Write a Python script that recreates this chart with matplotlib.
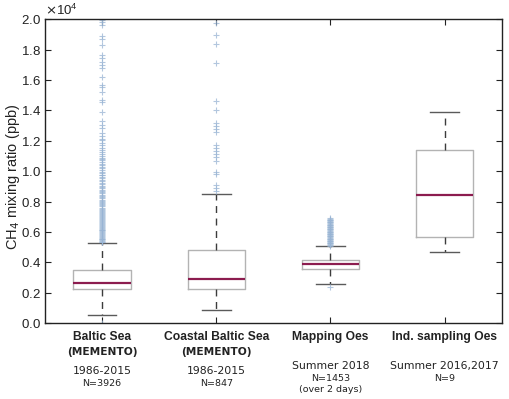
import numpy as np
import matplotlib
matplotlib.use('Agg')
import matplotlib.pyplot as plt
from matplotlib.ticker import ScalarFormatter

# box statistics (ppb)
names = ['Baltic Sea', 'Coastal Baltic Sea', 'Mapping Oes', 'Ind. sampling Oes']
q1 = [2250, 2250, 3540, 5660]
med = [2650, 2890, 3900, 8420]
q3 = [3500, 4800, 4150, 11360]
whislo = [530, 855, 2590, 4670]
whishi = [5280, 8470, 5090, 13900]

# outliers
fliers_baltic = [20000, 19950, 19780, 19600, 18900, 18680, 18330, 17630, 17450,
                 17190, 16970, 16760, 16200, 15660, 15550, 15220, 14670, 14560,
                 13900, 13290, 13030, 12830, 12480, 12310, 12140, 12020, 11850,
                 11720, 11540, 11410, 11260, 11130, 11020, 10880, 10790, 10710,
                 10580, 10490, 10400, 10270, 10190, 10080, 9960, 9890, 9780,
                 9720, 9610, 9530, 9420, 9350, 9240, 9160, 9050, 8970, 8880,
                 8790, 8720, 8610, 8540, 8460, 8370, 8290, 8220, 8130, 8060,
                 7970, 7910, 7830, 7760, 7680, 7610, 7540, 7470, 7390, 7330,
                 7260, 7180, 7120, 7050, 6980, 6920, 6850, 6790, 6720, 6660,
                 6590, 6530, 6470, 6410, 6340, 6280, 6220, 6160, 6100, 6040,
                 5980, 5920, 5860, 5800, 5740, 5690, 5630, 5570, 5520, 5460,
                 5410, 5360, 5310, 30]
fliers_coastal = [19750, 18950, 18350, 17100, 14600, 14000, 13150, 13000, 12800,
                  12600, 11700, 11500, 11300, 11100, 10900, 10700, 9950, 9800,
                  9100, 8900, 8700]
fliers_mapping = [6900, 6860, 6810, 6770, 6720, 6680, 6630, 6580, 6540, 6490,
                  6450, 6400, 6350, 6310, 6260, 6220, 6170, 6120, 6080, 6030,
                  5990, 5940, 5890, 5850, 5800, 5760, 5710, 5660, 5620, 5570,
                  5530, 5480, 5430, 5390, 5340, 5300, 5250, 5200, 5160, 5110,
                  2400]
fliers_ind = []
fliers = [fliers_baltic, fliers_coastal, fliers_mapping, fliers_ind]

line2 = ['(MEMENTO)', '(MEMENTO)', '', '']
line3 = ['1986-2015', '1986-2015', 'Summer 2018', 'Summer 2016,2017']
line4 = ['N=3926', 'N=847', 'N=1453', 'N=9']
line5 = ['', '', '(over 2 days)', '']

stats = []
for i in range(4):
    stats.append({'q1': q1[i], 'med': med[i], 'q3': q3[i],
                  'whislo': whislo[i], 'whishi': whishi[i],
                  'fliers': fliers[i]})

plt.rcParams['font.family'] = ['Liberation Sans', 'DejaVu Sans']

fig = plt.figure(figsize=(5.1, 3.99), dpi=100)
ax = fig.add_axes([0.088, 0.19, 0.896, 0.762])

pos = np.arange(1, 5)
ax.bxp(stats, positions=pos, widths=0.5,
       boxprops=dict(color='#b3b3b3', linewidth=1.0),
       medianprops=dict(color='#8c1c4f', linewidth=1.6),
       whiskerprops=dict(color='#3c3c3c', linewidth=1.0, linestyle=(0, (5, 4))),
       capprops=dict(color='#5a5a5a', linewidth=1.0),
       capwidths=0.25,
       flierprops=dict(marker='+', markeredgecolor='#98b4d4', markersize=4.5,
                       markeredgewidth=0.8, alpha=0.75, linestyle='none'))

ax.set_xlim(0.5, 4.5)
ax.set_ylim(0, 20000)
ax.set_yticks(np.arange(0, 20001, 2000))
fmt = ScalarFormatter(useMathText=True)
fmt.set_powerlimits((0, 0))
ax.yaxis.set_major_formatter(fmt)
ax.yaxis.get_offset_text().set_fontsize(9.5)
ax.set_xticks(pos)
ax.set_xticklabels([])
ax.tick_params(direction='in', top=True, right=True, length=4, width=0.8,
               labelsize=9.5, colors='#222222', pad=3)
for s in ax.spines.values():
    s.set_linewidth(1.0)
    s.set_color('#222222')

ax.set_ylabel('CH$_4$ mixing ratio (ppb)', fontsize=10.5, color='#222222')
ax.yaxis.set_label_coords(-0.05, 0.48)

tr = ax.get_xaxis_transform()
for i, x in enumerate(pos):
    ax.text(x, -0.046, names[i], transform=tr, ha='center', va='center',
            fontsize=8.7, fontweight='bold', color='#222222')
    if line2[i]:
        ax.text(x, -0.095, line2[i], transform=tr, ha='center', va='center',
                fontsize=7.7, fontweight='bold', family='DejaVu Sans', color='#222222')
    if i < 2:
        y3, y4 = -0.158, -0.197
    else:
        y3, y4 = -0.141, -0.181
    ax.text(x, y3, line3[i], transform=tr, ha='center', va='center',
            fontsize=7.8, family='DejaVu Sans', color='#222222')
    ax.text(x, y4, line4[i], transform=tr, ha='center', va='center',
            fontsize=6.8, family='DejaVu Sans', color='#222222')
    if line5[i]:
        ax.text(x, -0.217, line5[i], transform=tr, ha='center', va='center',
                fontsize=6.8, family='DejaVu Sans', color='#222222')

fig.savefig('out.png', dpi=100)
